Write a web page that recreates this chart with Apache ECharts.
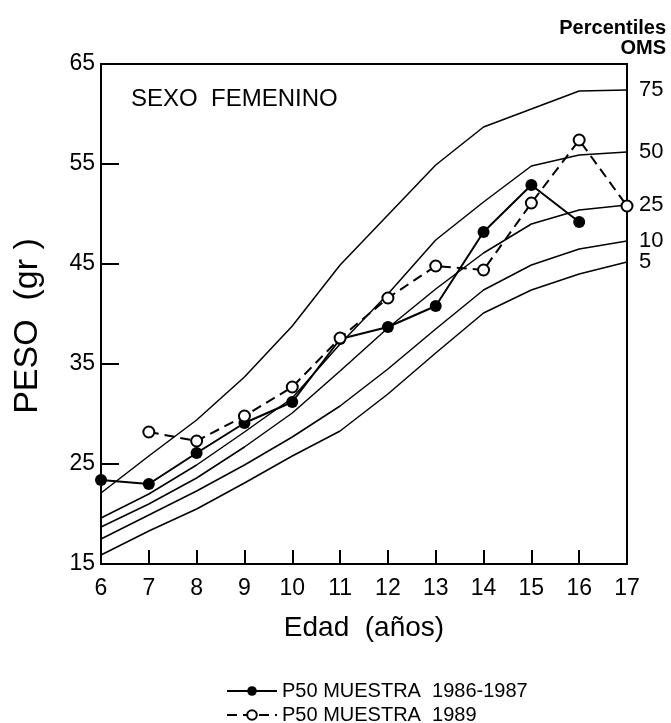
<!DOCTYPE html>
<html>
<head>
    <meta charset="utf-8">
    <title>Peso - Sexo femenino</title>
    <script src="https://cdn.jsdelivr.net/npm/echarts@6/dist/echarts.min.js"></script>
</head>
<body style="margin:0;background:#fff">
    <div id="main" style="width:671px;height:723px;"></div>
    <script type="text/javascript">
        // edad (años)
        var edad = [6, 7, 8, 9, 10, 11, 12, 13, 14, 15, 16, 17];
        // percentiles OMS
        var p5  = [15.9, 18.3, 20.5, 23.1, 25.8, 28.3, 32.0, 36.1, 40.1, 42.4, 44.0, 45.2];
        var p10 = [17.5, 19.9, 22.3, 24.9, 27.7, 30.8, 34.5, 38.5, 42.4, 44.9, 46.5, 47.3];
        var p25 = [18.7, 21.0, 23.6, 26.7, 30.1, 34.3, 38.6, 42.5, 46.1, 49.0, 50.4, 50.9];
        var p50 = [19.6, 22.0, 24.9, 28.2, 31.6, 37.0, 42.0, 47.4, 51.2, 54.8, 55.9, 56.2];
        var p75 = [22.1, 25.8, 29.4, 33.7, 38.8, 44.9, 49.9, 54.9, 58.7, 60.5, 62.3, 62.4];
        // muestras
        var edad8687 = [6, 7, 8, 9, 10, 11, 12, 13, 14, 15, 16];
        var m8687 = [23.4, 23.0, 26.1, 29.1, 31.2, 37.5, 38.7, 40.8, 48.2, 52.9, 49.2];
        var edad89 = [7, 8, 9, 10, 11, 12, 13, 14, 15, 16, 17];
        var m89 = [28.2, 27.3, 29.8, 32.7, 37.6, 41.6, 44.8, 44.4, 51.1, 57.4, 50.8];

        var percentiles = [['5', p5], ['10', p10], ['25', p25], ['50', p50], ['75', p75]];
        var font = 'Liberation Sans';

        function pares(xs, ys) {
            var out = [];
            for (var i = 0; i < xs.length; i++) out.push([xs[i], ys[i]]);
            return out;
        }

        var myChart = echarts.init(document.getElementById('main'));
        var series = [];
        percentiles.forEach(function (p) {
            series.push({
                name: 'P' + p[0],
                type: 'line',
                data: pares(edad, p[1]),
                symbol: 'none',
                silent: true,
                lineStyle: { color: '#000', width: 1.5 },
                endLabel: {
                    show: true,
                    formatter: p[0],
                    distance: 12,
                    color: '#000',
                    fontFamily: font,
                    fontSize: 22
                }
            });
        });
        series.push({
            name: 'P50 MUESTRA  1986-1987',
            type: 'line',
            data: pares(edad8687, m8687),
            symbol: 'circle',
            symbolSize: 12,
            itemStyle: { color: '#000' },
            lineStyle: { color: '#000', width: 2 },
            z: 5
        });
        series.push({
            name: 'P50 MUESTRA  1989',
            type: 'line',
            data: pares(edad89, m89),
            symbol: 'circle',
            symbolSize: 11,
            itemStyle: { color: '#fff', borderColor: '#000', borderWidth: 2 },
            lineStyle: { color: '#000', width: 2, type: [10, 6] },
            z: 6
        });

        var legendBase = {
            left: 226,
            padding: 0,
            itemWidth: 50,
            itemHeight: 12,
            textStyle: { color: '#000', fontFamily: font, fontSize: 20 }
        };

        var option = {
            animation: false,
            grid: { left: 101, right: 44, top: 64, bottom: 159, show: true, borderColor: '#000', borderWidth: 2, backgroundColor: 'transparent' },
            graphic: [
                { type: 'text', right: 5, top: 18, style: { text: 'Percentiles', fill: '#000', font: 'bold 20px ' + font } },
                { type: 'text', right: 5, top: 38, style: { text: 'OMS', fill: '#000', font: 'bold 20px ' + font } },
                { type: 'text', left: 131, top: 87, style: { text: 'SEXO  FEMENINO', fill: '#000', font: '24px ' + font } }
            ],
            legend: [
                echarts.util.extend({ data: ['P50 MUESTRA  1986-1987'], top: 681 }, legendBase),
                echarts.util.extend({ data: ['P50 MUESTRA  1989'], top: 705 }, legendBase)
            ],
            xAxis: {
                type: 'value',
                min: 6, max: 17, interval: 1,
                name: 'Edad  (años)',
                nameLocation: 'middle',
                nameGap: 50,
                nameTextStyle: { color: '#000', fontFamily: font, fontSize: 28 },
                axisLine: { show: true, lineStyle: { color: '#000', width: 2 } },
                axisTick: { show: true, inside: true, length: 14, lineStyle: { color: '#000', width: 2 } },
                axisLabel: { color: '#000', fontFamily: font, fontSize: 23, margin: 13 },
                splitLine: { show: false }
            },
            yAxis: {
                type: 'value',
                min: 15, max: 65, interval: 10,
                name: 'PESO  (gr )',
                nameLocation: 'middle',
                nameGap: 56,
                nameRotate: 90,
                nameTextStyle: { color: '#000', fontFamily: font, fontSize: 34, padding: [0, 24, 0, 0] },
                axisLine: { show: true, lineStyle: { color: '#000', width: 2 } },
                axisTick: { show: true, inside: true, length: 18, lineStyle: { color: '#000', width: 2 } },
                axisLabel: { color: '#000', fontFamily: font, fontSize: 23, margin: 6 },
                splitLine: { show: false }
            },
            series: series
        };

        myChart.setOption(option);
    </script>
</body>
</html>
